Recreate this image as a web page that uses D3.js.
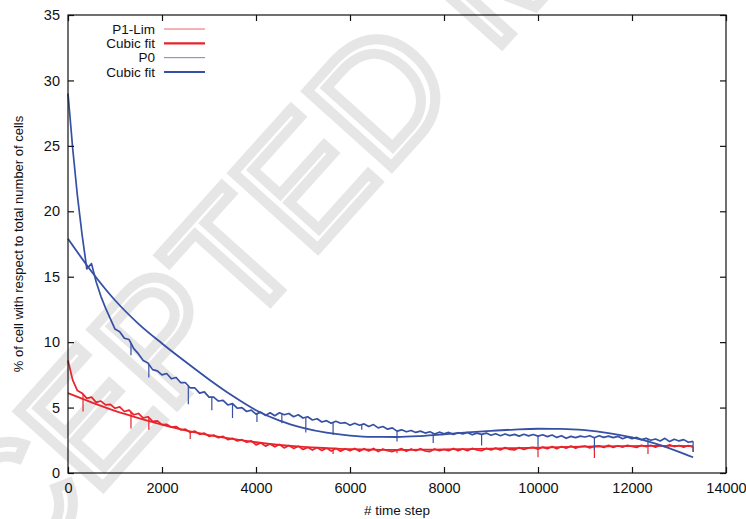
<!DOCTYPE html>
<html>
<head>
<meta charset="utf-8">
<script src="https://cdn.jsdelivr.net/npm/d3@7"></script>
<style>
  html, body { margin: 0; padding: 0; background: #fff; }
  svg { display: block; font-family: "Liberation Sans", Arial, Helvetica, sans-serif; }
</style>
</head>
<body>
<svg id="chart" width="746" height="519"></svg>
<script>
// ---- data ----
const timeStep = 100; // sampling interval of the raw series (time steps)

const p0Values = [
  29.0,24.8,21.2,18.2,15.6,16.0,14.6,13.5,12.6,11.8,
  11.0,10.8,10.3,10.2,9.5,9.1,8.6,8.4,7.9,7.8,
  7.5,7.6,7.2,7.3,6.9,6.9,6.5,6.5,6.1,6.2,
  5.8,5.8,5.5,5.55,5.2,5.3,4.95,5.0,4.7,4.8,
  4.5,4.65,4.4,4.6,4.38,4.6,4.45,4.55,4.3,4.45,
  4.2,4.3,4.05,4.15,3.9,4.0,3.8,3.95,3.8,3.85,
  3.65,3.8,3.65,3.75,3.55,3.7,3.45,3.55,3.35,3.45,
  3.2,3.3,3.15,3.25,3.1,3.2,3.05,3.15,2.98,3.12,
  3.0,3.1,2.95,3.08,2.98,3.1,2.92,3.05,2.95,3.05,
  2.88,3.0,2.85,2.98,2.86,2.95,2.82,2.96,2.84,2.94,
  2.82,2.92,2.78,2.9,2.72,2.85,2.65,2.8,2.7,2.82,
  2.75,2.85,2.7,2.85,2.72,2.82,2.7,2.8,2.62,2.75,
  2.62,2.72,2.55,2.65,2.5,2.6,2.45,2.65,2.4,2.58,
  2.45,2.55,2.35,2.42
];

const p1Values = [
  8.6,7.1,6.3,6.1,5.7,5.8,5.4,5.5,5.2,5.25,
  4.95,5.05,4.7,4.8,4.45,4.55,4.2,4.3,3.95,3.98,
  3.7,3.72,3.5,3.55,3.3,3.35,3.1,3.2,2.95,3.05,
  2.8,2.9,2.7,2.8,2.55,2.65,2.45,2.55,2.35,2.45,
  2.15,2.3,2.05,2.22,2.0,2.18,1.92,2.1,1.88,2.05,
  1.8,1.96,1.75,1.94,1.72,1.9,1.68,1.88,1.66,1.86,
  1.7,1.88,1.66,1.86,1.68,1.88,1.64,1.84,1.7,1.64,
  1.75,1.86,1.66,1.84,1.7,1.86,1.68,1.64,1.84,1.7,
  1.8,1.7,1.88,1.7,1.84,1.7,1.88,1.76,1.7,1.88,
  1.76,1.9,1.76,1.94,1.8,1.76,1.94,1.8,1.92,1.96,
  1.82,1.98,1.86,2.02,1.86,2.02,1.9,2.06,1.9,2.02,
  2.06,1.92,2.04,2.08,1.96,2.12,1.96,2.08,1.98,2.12,
  2.04,1.96,2.12,2.02,2.12,1.98,2.12,2.02,2.16,2.02,
  2.1,1.98,2.1,1.98
];

// downward single-sample spikes (time step, lowest value)
const p0SpikeT   = [1340, 1720, 2560, 3060, 3500, 4020, 4550, 5060, 5640, 6250, 7000, 7770, 8800, 10000, 11200, 12340, 13300];
const p0SpikeLow = [9.0, 7.3, 5.25, 4.8, 4.2, 3.9, 3.8, 3.1, 2.9, 3.3, 2.4, 2.3, 2.1, 2.0, 1.75, 2.0, 1.6];
const p1SpikeT   = [320, 1340, 1720, 2600, 5640, 7000, 10000, 11200, 12340, 13300];
const p1SpikeLow = [4.7, 3.4, 3.3, 2.6, 1.45, 1.5, 1.2, 1.15, 1.45, 1.6];

// cubic fits, read at these time steps
const fitT     = [0,500,1000,1500,2000,2500,3000,3500,4000,4500,5000,5500,6000,6500,7000,7500,8000,8500,9000,9500,10000,10500,11000,11500,12000,12500,13000,13300];
const p0FitVal = [17.9,15.4,13.2,11.4,9.9,8.5,7.15,5.9,4.8,4.0,3.45,3.08,2.86,2.76,2.75,2.82,2.95,3.1,3.22,3.32,3.38,3.37,3.27,3.05,2.72,2.25,1.62,1.2];
const p1FitVal = [6.1,5.4,4.75,4.2,3.7,3.25,2.9,2.6,2.35,2.15,2.0,1.9,1.82,1.78,1.77,1.78,1.8,1.83,1.87,1.9,1.94,1.98,2.01,2.04,2.06,2.07,2.07,2.06];

const xTicks = [0,2000,4000,6000,8000,10000,12000,14000];
const yTicks = [0,5,10,15,20,25,30,35];
const legendLabels = ["P1-Lim","Cubic fit","P0","Cubic fit"];
const xLabel = "# time step";
const yLabel = "% of cell with respect to total number of cells";
const watermark = "ACCEPTED MANUSCRIPT";

// ---- drawing ----
const RED = "#e8232b", BLUE = "#3650a5";
const svg = d3.select("#chart");
const L = 68, R = 726, T = 15, B = 473;
const x = d3.scaleLinear().domain([0,14000]).range([L,R]);
const y = d3.scaleLinear().domain([0,35]).range([B,T]);

// watermark (behind)
svg.append("text")
  .attr("transform","translate(-139,756) rotate(-48)")
  .attr("font-size",165)
  .attr("font-family","Liberation Sans, Arial, sans-serif")
  .attr("fill","none")
  .attr("stroke","#e6e6e6")
  .attr("stroke-width",10)
  .text(watermark);

const p0 = p0Values.map((v,i)=>[i*timeStep, v]);
const p1 = p1Values.map((v,i)=>[i*timeStep, v]);
const line = d3.line().x(d=>x(d[0])).y(d=>y(d[1]));
const fitLine = d3.line().x(d=>x(d[0])).y(d=>y(d[1])).curve(d3.curveMonotoneX);

function valAt(series, t){
  const i = Math.min(series.length-2, Math.floor(t/timeStep));
  const a = series[i], b = series[i+1];
  const f = (t-a[0])/(b[0]-a[0]);
  return a[1] + (b[1]-a[1])*f;
}

const g = svg.append("g");
// P1 raw
g.append("path").attr("d", line(p1)).attr("fill","none").attr("stroke",RED).attr("stroke-width",1.7).attr("stroke-linejoin","round");
g.selectAll(".s1").data(p1SpikeT).join("line")
  .attr("x1",d=>x(d)).attr("x2",d=>x(d))
  .attr("y1",d=>y(valAt(p1,d))).attr("y2",(d,i)=>y(p1SpikeLow[i]))
  .attr("stroke",RED).attr("stroke-width",1.2);
// P1 fit
g.append("path").attr("d", fitLine(fitT.map((t,i)=>[t,p1FitVal[i]]))).attr("fill","none").attr("stroke",RED).attr("stroke-width",1.8);
// P0 raw
g.append("path").attr("d", line(p0)).attr("fill","none").attr("stroke",BLUE).attr("stroke-width",1.7).attr("stroke-linejoin","round");
g.selectAll(".s0").data(p0SpikeT).join("line")
  .attr("x1",d=>x(d)).attr("x2",d=>x(d))
  .attr("y1",d=>y(valAt(p0,d))).attr("y2",(d,i)=>y(p0SpikeLow[i]))
  .attr("stroke",BLUE).attr("stroke-width",1.2);
// P0 fit
g.append("path").attr("d", fitLine(fitT.map((t,i)=>[t,p0FitVal[i]]))).attr("fill","none").attr("stroke",BLUE).attr("stroke-width",1.8);

// frame and ticks (mirrored, inward)
const axG = svg.append("g").attr("stroke","#111").attr("stroke-width",1.2);
axG.append("rect").attr("x",L).attr("y",T).attr("width",R-L).attr("height",B-T).attr("fill","none");
const fmt = d3.format("d");
const xAxB = d3.axisBottom(x).tickValues(xTicks).tickSizeInner(-6).tickSizeOuter(0).tickPadding(10).tickFormat(fmt);
const xAxT = d3.axisTop(x).tickValues(xTicks).tickSizeInner(-6).tickSizeOuter(0).tickFormat("");
const yAxL = d3.axisLeft(y).tickValues(yTicks).tickSizeInner(-6).tickSizeOuter(0).tickPadding(8).tickFormat(fmt);
const yAxR = d3.axisRight(y).tickValues(yTicks).tickSizeInner(-6).tickSizeOuter(0).tickFormat("");
function styleAxis(sel){
  sel.select(".domain").remove();
  sel.selectAll(".tick line").attr("stroke","#111").attr("stroke-width",1.2);
  sel.selectAll(".tick text").attr("fill","#111").attr("font-size",14.5).attr("font-family","Liberation Sans, Arial, sans-serif");
}
svg.append("g").attr("transform",`translate(0,${B})`).call(xAxB).call(styleAxis);
svg.append("g").attr("transform",`translate(0,${T})`).call(xAxT).call(styleAxis);
svg.append("g").attr("transform",`translate(${L},0)`).call(yAxL).call(styleAxis);
svg.append("g").attr("transform",`translate(${R},0)`).call(yAxR).call(styleAxis);

// axis labels
svg.append("text").attr("x",(L+R)/2).attr("y",515).attr("text-anchor","middle")
  .attr("font-size",13.5).attr("fill","#111").text(xLabel);
svg.append("text").attr("transform",`translate(23,${(T+B)/2}) rotate(-90)`).attr("text-anchor","middle")
  .attr("font-size",13).attr("fill","#111").text(yLabel);

// legend
const legColors = [RED, RED, BLUE, BLUE];
const legWidths = [1, 2.2, 1, 2.2];
const legOpac = [0.7, 1, 0.7, 1];
const legY = d3.scalePoint().domain(d3.range(legendLabels.length)).range([29,72]);
const lg = svg.append("g");
legendLabels.forEach((lab,i)=>{
  lg.append("text").attr("x",155).attr("y",legY(i)).attr("dy","0.35em").attr("text-anchor","end")
    .attr("font-size",13.5).attr("fill","#111").text(lab);
  lg.append("line").attr("x1",164).attr("x2",205).attr("y1",legY(i)).attr("y2",legY(i))
    .attr("stroke",legColors[i]).attr("stroke-width",legWidths[i]).attr("stroke-opacity",legOpac[i]);
});
</script>
</body>
</html>
